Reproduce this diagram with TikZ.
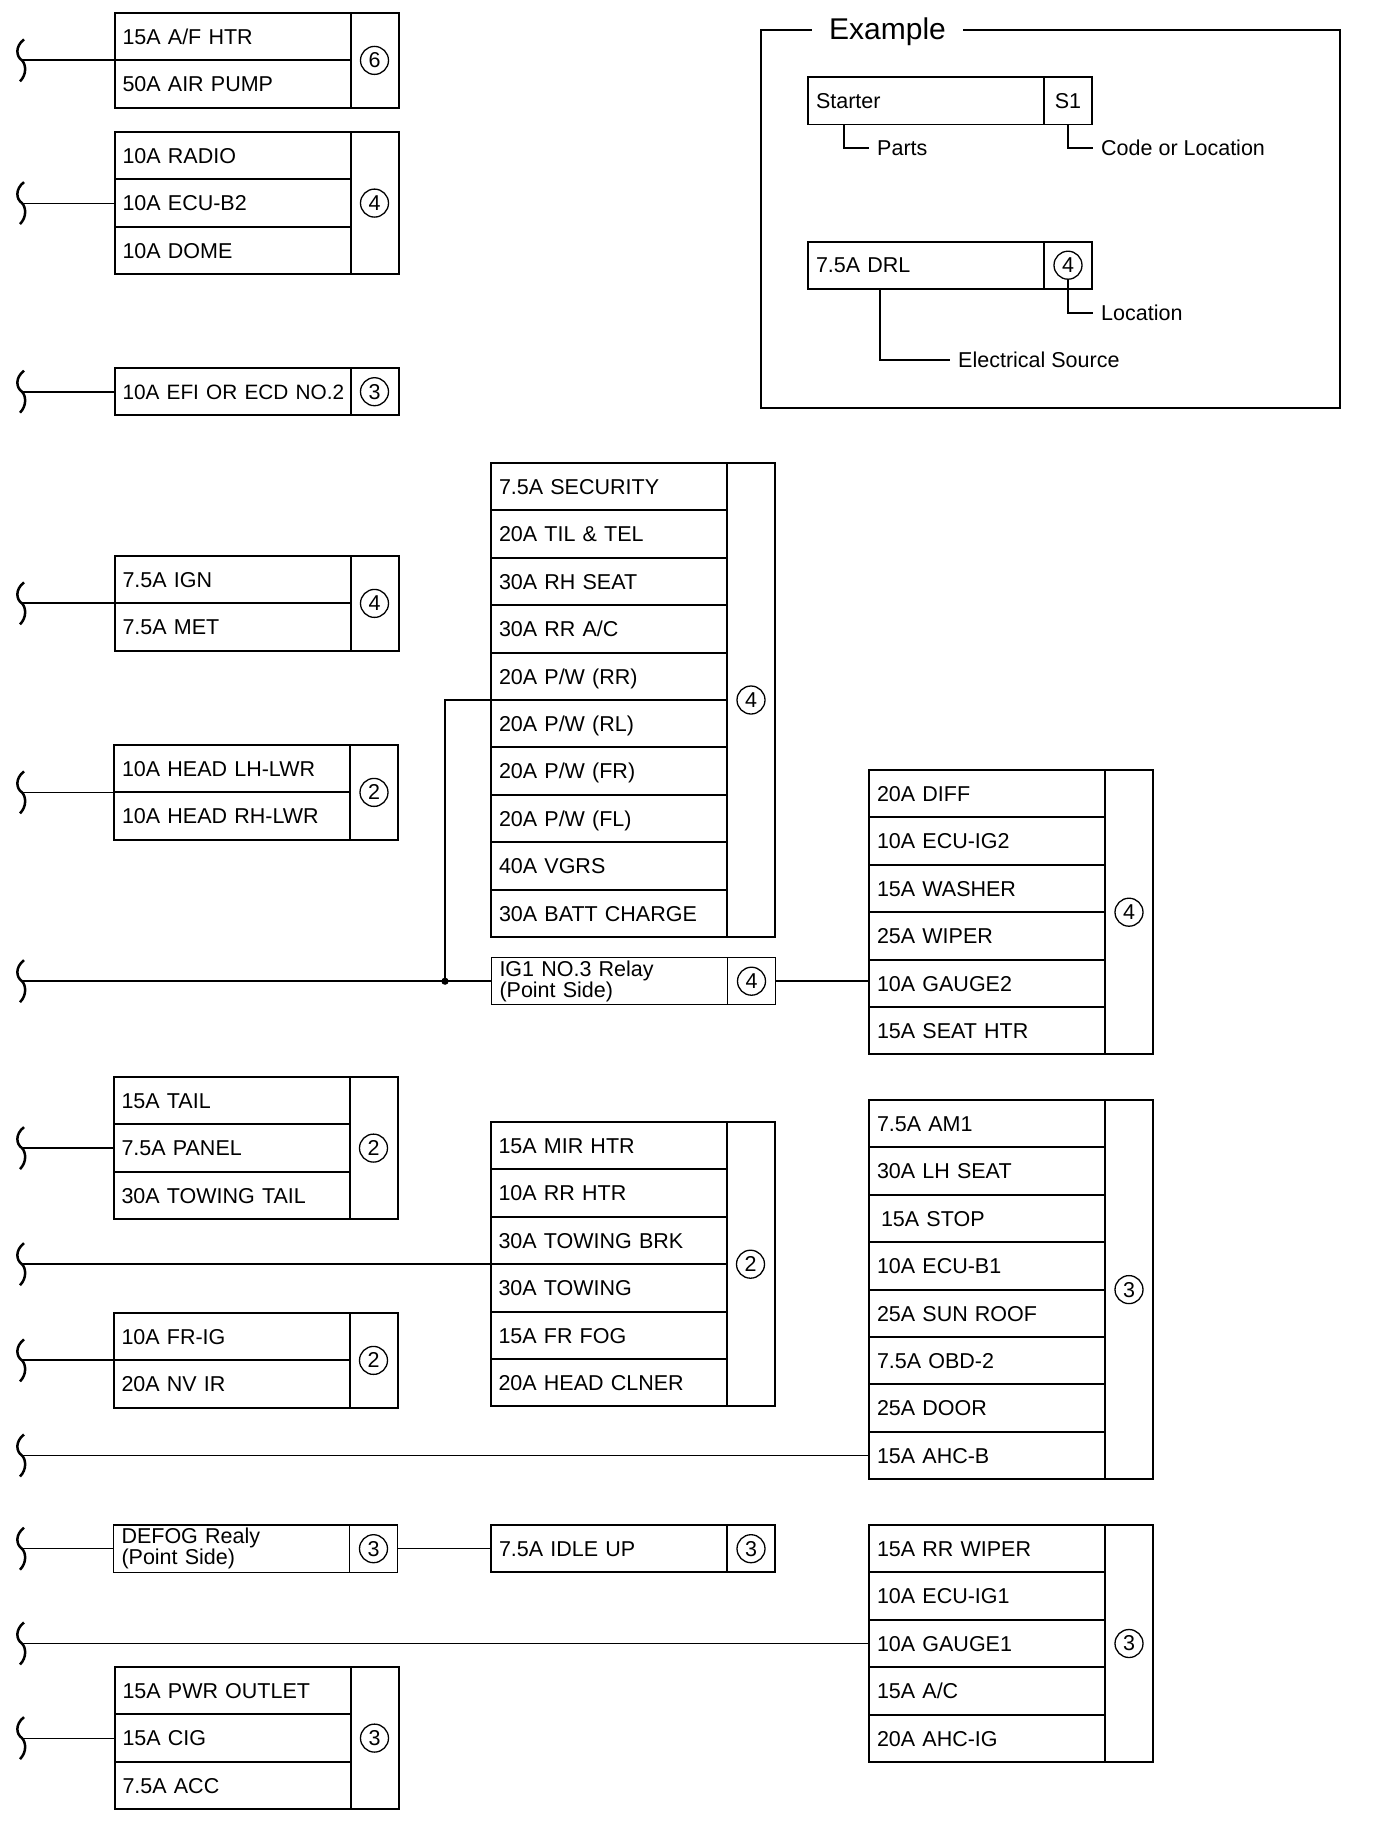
\documentclass[tikz,border=0pt]{standalone}
\usepackage{fontspec}
\setmainfont{Liberation Sans}
\usetikzlibrary{calc}
\newcommand\rowfont{\fontsize{21.5}{21}\selectfont}
\newcommand\titlefont{\fontsize{30}{30}\selectfont}
\tikzset{
  fuserow/.style={draw, rectangle, line width=2pt, outer sep=0pt, inner xsep=8pt, inner ysep=0pt,
    text width=220pt, align=left, minimum height=47.4pt, text height=15.4pt, text depth=0pt, font=\rowfont},
  numcol/.style={draw, rectangle, line width=2pt, outer sep=0pt, inner sep=0pt, minimum width=48pt},
  numcirc/.style={draw, circle, line width=1.3pt, minimum size=28pt, inner sep=0pt, font=\rowfont},
  relaybox/.style={draw, rectangle, line width=1.1pt, outer sep=0pt, inner xsep=8pt, inner ysep=0pt,
    text width=220pt, align=left, minimum height=47.4pt, font=\rowfont},
  relaynum/.style={draw, rectangle, line width=1.1pt, outer sep=0pt, inner sep=0pt, minimum width=48pt, minimum height=47.4pt},
  exlabel/.style={inner sep=0pt, anchor=west, text height=15.6pt, text depth=0pt, font=\rowfont},
  wire/.style={line width=1.9pt},
  thinwire/.style={line width=1.1pt},
  squiggle/.pic={\draw[line width=2.5pt] (2,-21) .. controls (-7,-14) and (-6,-4) .. (0,0) .. controls (4,4) and (5,14) .. (-2,21);},
}
% name, x, ytop, circled number, list of rows
\newcommand\fuse[5]{%
  \foreach \lbl [count=\i] in {#5} {
    \node[fuserow, anchor=north west] (#1-\i) at (#2, {#3+(\i-1)*47.4}) {\mbox{\lbl}};
    \xdef\fusecount{\i}
  }
  \node[numcol, anchor=north west, minimum height=\fusecount*47.4pt] (#1-n) at ({#2+236},#3) {};
  \node[numcirc] (#1-c) at (#1-n.center) {#4};
}
% style, coordinate name, target
\newcommand\feed[3]{%
  \coordinate (#2) at (#3 -| xl);
  \pic at (#2) {squiggle};
  \draw[#1] (#2) -- (#3);
}
\begin{document}
\begin{tikzpicture}[x=1pt, y=-1pt]
\useasboundingbox (0,0) rectangle (1376,1828);
\coordinate (xl) at (22,0);
\coordinate (xj) at (445,0);

% left column
\fuse{af}{114.5}{13}{6}{15A A/F HTR, 50A AIR PUMP}
\fuse{radio}{114.5}{132}{4}{10A RADIO, 10A ECU-B2, 10A DOME}
\fuse{efi}{114.5}{368}{3}{{\fontsize{20.8}{21}\selectfont 10A EFI OR ECD NO.2}}
\fuse{ign}{114.5}{556}{4}{7.5A IGN, 7.5A MET}
\fuse{head}{114}{745}{2}{10A HEAD LH-LWR, 10A HEAD RH-LWR}
\fuse{tail}{113.5}{1077}{2}{15A TAIL, 7.5A PANEL, 30A TOWING TAIL}
\fuse{frig}{113.5}{1313}{2}{10A FR-IG, 20A NV IR}
\fuse{pwr}{114.5}{1667}{3}{15A PWR OUTLET, 15A CIG, 7.5A ACC}

\node[relaybox, anchor=north west] (defog) at (113.5,1525) {DEFOG Realy\\(Point Side)};
\node[relaynum, anchor=north west] (defog-n) at (349.5,1525) {};
\node[numcirc] (defog-c) at (defog-n.center) {3};

% middle column
\fuse{sec}{491}{463}{4}{7.5A SECURITY, 20A TIL \& TEL, 30A RH SEAT, 30A RR A/C, 20A P/W (RR), 20A P/W (RL), 20A P/W (FR), 20A P/W (FL), 40A VGRS, 30A BATT CHARGE}
\node[relaybox, anchor=north west] (ig1) at (491.5,957.5) {IG1 NO.3 Relay\\(Point Side)};
\node[relaynum, anchor=north west] (ig1-n) at (727.5,957.5) {};
\node[numcirc] (ig1-c) at (ig1-n.center) {4};
\fuse{mir}{490.5}{1122}{2}{15A MIR HTR, 10A RR HTR, 30A TOWING BRK, 30A TOWING, 15A FR FOG, 20A HEAD CLNER}
\fuse{idle}{491}{1525}{3}{7.5A IDLE UP}

% right column
\fuse{diff}{869}{770}{4}{20A DIFF, 10A ECU-IG2, 15A WASHER, 25A WIPER, 10A GAUGE2, 15A SEAT HTR}
\fuse{am1}{869}{1100}{3}{7.5A AM1, 30A LH SEAT, \hspace*{4pt}15A STOP, 10A ECU-B1, 25A SUN ROOF, 7.5A OBD-2, 25A DOOR, 15A AHC-B}
\fuse{rrw}{869}{1525}{3}{15A RR WIPER, 10A ECU-IG1, 10A GAUGE1, 15A A/C, 20A AHC-IG}

% feeds
\feed{wire}{w-af}{af-1.south west}
\feed{thinwire}{w-radio}{radio-2.west}
\feed{wire}{w-efi}{efi-1.west}
\feed{wire}{w-ign}{ign-1.south west}
\feed{thinwire}{w-head}{head-1.south west}
\feed{wire}{w-ig1}{ig1.west}
\coordinate (j) at (ig1.west -| xj);
\fill (j) circle (3.6pt);
\draw[wire] (j) |- (sec-5.south west);
\draw[wire] (ig1-n.east) -- (ig1-n.east -| diff-5.west);
\feed{wire}{w-tail}{tail-2.west}
\feed{wire}{w-mir}{mir-3.south west}
\feed{wire}{w-frig}{frig-1.south west}
\feed{wire}{w-am1}{am1-8.west}
\feed{thinwire}{w-defog}{defog.west}
\draw[thinwire] (defog-n.east) -- (defog-n.east -| idle-1.west);
\feed{wire}{w-rrw}{rrw-3.west}
\feed{thinwire}{w-pwr}{pwr-2.west}

% example
\node[draw, line width=1.4pt, rectangle, outer sep=0pt, minimum width=579pt, minimum height=378pt, anchor=north west] (frame) at (761,30) {};
\node[fill=white, inner xsep=17pt, inner ysep=2pt, font=\titlefont, text height=21.5pt, text depth=0pt] (extitle) at (887.5,29) {Example};
\node[fuserow, line width=1.1pt, anchor=north west] (starter) at (808,77) {Starter};
\node[numcol, line width=1.1pt, minimum height=47.4pt, anchor=north west, font=\rowfont] (starter-n) at (1044,77) {S1};
\fuse{drl}{808}{241.5}{4}{7.5A DRL}
\node[exlabel] (parts) at (877,148) {Parts};
\node[exlabel] (code) at (1101,148) {Code or Location};
\node[exlabel] (loc) at (1101,313) {Location};
\node[exlabel] (esrc) at (958,360) {Electrical Source};
\draw[thinwire] ($(starter.south west)+(36,0)$) |- ([xshift=-8pt]parts.west);
\draw[thinwire] (starter-n.south) |- ([xshift=-8pt]code.west);
\draw[thinwire] (drl-c.south) |- ([xshift=-8pt]loc.west);
\draw[thinwire] ($(drl-1.south west)+(72,0)$) |- ([xshift=-8pt]esrc.west);
\end{tikzpicture}
\end{document}
